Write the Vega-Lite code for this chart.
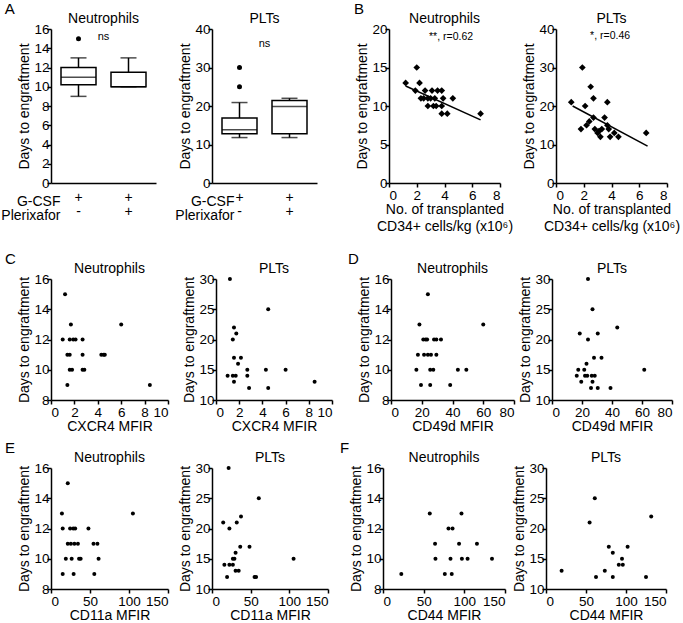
{
"$schema":"https://vega.github.io/schema/vega-lite/v6.json",
"padding":{"left":0,"top":2,"right":2,"bottom":0},
"config":{
 "font":"Liberation Sans",
 "view":{"stroke":null},
 "axis":{"domainColor":"#000","domainWidth":1.5,"tickColor":"#000","tickWidth":1.5,"tickSize":4,"labelColor":"#000","labelFontSize":13.5,"labelPadding":1,"titleColor":"#000","titleFontSize":14,"titleFontWeight":"normal","titlePadding":3,"grid":false,"labelFont":"Liberation Sans","titleFont":"Liberation Sans"},
 "axisX":{"titlePadding":1},
 "axisY":{"labelPadding":-2,"titlePadding":2},
 "title":{"font":"Liberation Sans","fontSize":14,"fontWeight":"normal","color":"#000","anchor":"middle","frame":"group","offset":-4}
},
"datasets":{
 "boxN":[{"g":"a","lo":9,"q1":10.2,"med":11,"q3":12,"hi":13},{"g":"b","lo":10,"q1":10,"med":10,"q3":11.5,"hi":13}],
 "outN":[{"g":"a","y":15}],
 "boxP":[{"g":"a","lo":11.8,"q1":12.8,"med":13.8,"q3":16.9,"hi":20.9},{"g":"b","lo":11.8,"q1":12.8,"med":19.9,"q3":21.4,"hi":22}],
 "outP":[{"g":"a","y":30},{"g":"a","y":25}],
 "bN":[{"x":1.2,"y":13},{"x":2.0,"y":15},{"x":2.2,"y":13},{"x":1.9,"y":12},{"x":2.6,"y":12},{"x":3.1,"y":12},{"x":3.5,"y":12},{"x":3.8,"y":12},{"x":2.3,"y":11},{"x":2.5,"y":11},{"x":2.8,"y":11},{"x":3.0,"y":11},{"x":3.3,"y":11},{"x":3.9,"y":11},{"x":4.6,"y":11},{"x":2.8,"y":10},{"x":3.2,"y":10},{"x":3.4,"y":10},{"x":3.8,"y":10},{"x":3.8,"y":9},{"x":4.2,"y":9},{"x":6.6,"y":9}],
 "bNfit":[{"x":1.2,"y":12.6},{"x":6.6,"y":8.2}],
 "bP":[{"x":1.1,"y":21},{"x":1.9,"y":30},{"x":2.5,"y":25},{"x":2.7,"y":22},{"x":2.1,"y":20},{"x":3.7,"y":21},{"x":2.7,"y":17},{"x":3.5,"y":17},{"x":1.8,"y":14},{"x":2.2,"y":15},{"x":2.4,"y":16},{"x":2.8,"y":14},{"x":3.0,"y":13},{"x":3.2,"y":12},{"x":3.3,"y":14},{"x":3.7,"y":15},{"x":3.8,"y":14},{"x":3.9,"y":12},{"x":4.2,"y":13},{"x":4.5,"y":12},{"x":6.5,"y":13},{"x":3.1,"y":13.5}],
 "bPfit":[{"x":1.2,"y":20.0},{"x":6.6,"y":9.6}],
 "cN":[{"x":1.2,"y":15},{"x":1.7,"y":13},{"x":1.0,"y":12},{"x":1.6,"y":12},{"x":1.9,"y":12},{"x":2.1,"y":12},{"x":2.7,"y":12},{"x":1.4,"y":11},{"x":1.6,"y":11},{"x":2.7,"y":11},{"x":4.3,"y":11},{"x":4.5,"y":11},{"x":4.6,"y":11},{"x":6.0,"y":13},{"x":1.6,"y":10},{"x":1.8,"y":10},{"x":2.7,"y":10},{"x":2.85,"y":10},{"x":1.4,"y":9},{"x":8.45,"y":9}],
 "cP":[{"x":1.2,"y":30},{"x":4.5,"y":25},{"x":1.55,"y":22},{"x":1.75,"y":21},{"x":1.45,"y":20},{"x":1.55,"y":17},{"x":2.15,"y":17},{"x":1.9,"y":16},{"x":2.7,"y":15},{"x":4.3,"y":15},{"x":6.0,"y":15},{"x":1.0,"y":14},{"x":1.45,"y":14},{"x":1.7,"y":14},{"x":2.7,"y":14},{"x":1.55,"y":13},{"x":8.5,"y":13},{"x":2.85,"y":12},{"x":4.5,"y":12}],
 "dN":[{"x":24,"y":15},{"x":18.5,"y":13},{"x":60,"y":13},{"x":21,"y":12},{"x":22.5,"y":12},{"x":23.5,"y":12},{"x":28,"y":12},{"x":29.5,"y":12},{"x":32.5,"y":12},{"x":17.5,"y":11},{"x":21.5,"y":11},{"x":24,"y":11},{"x":26,"y":11},{"x":29.5,"y":11},{"x":16.5,"y":10},{"x":25.5,"y":10},{"x":27.5,"y":10},{"x":43.5,"y":10},{"x":49,"y":10},{"x":19.5,"y":9},{"x":25.5,"y":9},{"x":38.5,"y":9}],
 "dP":[{"x":24,"y":30},{"x":27,"y":25},{"x":18.5,"y":21},{"x":30.5,"y":21},{"x":43.5,"y":22},{"x":24,"y":20},{"x":28,"y":17},{"x":33,"y":17},{"x":23,"y":16},{"x":17.5,"y":15},{"x":21.5,"y":15},{"x":61.5,"y":15},{"x":16.5,"y":14},{"x":22,"y":14},{"x":23.5,"y":14},{"x":26.5,"y":14},{"x":28.5,"y":14},{"x":19.5,"y":13},{"x":27,"y":13},{"x":26,"y":12},{"x":30.5,"y":12},{"x":39,"y":12}],
 "eN":[{"x":21.5,"y":15},{"x":14,"y":13},{"x":105,"y":13},{"x":15,"y":12},{"x":24.5,"y":12},{"x":28.5,"y":12},{"x":31,"y":12},{"x":48,"y":12},{"x":21.5,"y":11},{"x":25.5,"y":11},{"x":30,"y":11},{"x":34.5,"y":11},{"x":54.5,"y":11},{"x":59.5,"y":11},{"x":19,"y":10},{"x":26.5,"y":10},{"x":36,"y":10},{"x":38,"y":10},{"x":61,"y":10},{"x":15,"y":9},{"x":29,"y":9},{"x":55.5,"y":9}],
 "eP":[{"x":21.5,"y":30},{"x":60.5,"y":25},{"x":37.5,"y":22},{"x":14.5,"y":21},{"x":32,"y":21},{"x":22.5,"y":20},{"x":36.5,"y":17},{"x":48.5,"y":17},{"x":30.5,"y":16},{"x":27,"y":15},{"x":29,"y":15},{"x":105.5,"y":15},{"x":16,"y":14},{"x":22.5,"y":14},{"x":27,"y":14},{"x":30.5,"y":13},{"x":34.5,"y":13},{"x":19.5,"y":12},{"x":55,"y":12},{"x":57,"y":12}],
 "fN":[{"x":57.5,"y":13},{"x":96.5,"y":13},{"x":80.5,"y":12},{"x":85.5,"y":12},{"x":64,"y":11},{"x":93.5,"y":11},{"x":115.5,"y":11},{"x":64.5,"y":10},{"x":83,"y":10},{"x":97,"y":10},{"x":104,"y":10},{"x":134,"y":10},{"x":22.5,"y":9},{"x":76,"y":9},{"x":84.5,"y":9}],
 "fP":[{"x":61,"y":25},{"x":131.5,"y":22},{"x":54.5,"y":21},{"x":78.5,"y":17},{"x":102,"y":17},{"x":83.5,"y":16},{"x":95,"y":15},{"x":91,"y":14},{"x":96,"y":14},{"x":19.5,"y":13},{"x":73.5,"y":13},{"x":62.5,"y":12},{"x":83.5,"y":12},{"x":125,"y":12}]
},
"spacing":18,
"vconcat":[
 {"spacing":36,"hconcat":[
  {"title":{"text":"A","anchor":"start","frame":"bounds","offset":-5,"dx":4,"fontSize":15},"spacing":18,"hconcat":[
   {"width":105,"height":154,"title":{"text":"Neutrophils"},
    "encoding":{"x":{"field":"g","type":"nominal","scale":{"paddingInner":0,"paddingOuter":0.05},"axis":{"labelExpr":"datum.value == 'a' ? ['+', '-'] : ['+', '+']","labelAngle":0,"labelFontSize":14,"labelLineHeight":14,"labelBaseline":"top","labelPadding":7,"labelColor":"#000","ticks":false,"title":["G-CSF","Plerixafor"],"titleX":9,"titleY":11,"titleAlign":"right","titleBaseline":"top","titleAngle":0,"titleLineHeight":14}}},
    "layer":[
     {"data":{"name":"boxN"},"mark":{"type":"rule","color":"#000","strokeWidth":1.5},"encoding":{"y":{"field":"lo","type":"quantitative","title":"Days to engraftment","scale":{"domain":[0,16],"nice":false},"axis":{"values":[0,2,4,6,8,10,12,14,16]}},"y2":{"field":"hi"}}},
     {"data":{"name":"boxN"},"mark":{"type":"bar","fill":"#fff","stroke":"#000","strokeWidth":1.5,"width":35},"encoding":{"y":{"field":"q1","type":"quantitative","title":"Days to engraftment","scale":{"domain":[0,16],"nice":false},"axis":{"values":[0,2,4,6,8,10,12,14,16]}},"y2":{"field":"q3"}}},
     {"data":{"name":"boxN"},"mark":{"type":"tick","color":"#000","thickness":1.5,"size":35},"encoding":{"y":{"field":"med","type":"quantitative","title":"Days to engraftment","scale":{"domain":[0,16],"nice":false},"axis":{"values":[0,2,4,6,8,10,12,14,16]}}}},
     {"data":{"name":"boxN"},"mark":{"type":"tick","color":"#000","thickness":1.5,"size":16},"encoding":{"y":{"field":"lo","type":"quantitative","title":"Days to engraftment","scale":{"domain":[0,16],"nice":false},"axis":{"values":[0,2,4,6,8,10,12,14,16]}}}},
     {"data":{"name":"boxN"},"mark":{"type":"tick","color":"#000","thickness":1.5,"size":16},"encoding":{"y":{"field":"hi","type":"quantitative","title":"Days to engraftment","scale":{"domain":[0,16],"nice":false},"axis":{"values":[0,2,4,6,8,10,12,14,16]}}}},
     {"data":{"name":"outN"},"mark":{"type":"point","filled":true,"shape":"circle","size":25,"color":"#000","opacity":1},"encoding":{"y":{"field":"y","type":"quantitative","title":"Days to engraftment","scale":{"domain":[0,16],"nice":false},"axis":{"values":[0,2,4,6,8,10,12,14,16]}}}},
     {"data":{"values":[{"g":"a","y":15.2,"t":"ns"}]},"mark":{"type":"text","fontSize":11,"color":"#000"},"encoding":{"x":{"field":"g","type":"nominal","bandPosition":1},"y":{"field":"y","type":"quantitative","title":"Days to engraftment","scale":{"domain":[0,16],"nice":false},"axis":{"values":[0,2,4,6,8,10,12,14,16]}},"text":{"field":"t"}}}
    ]},
   {"width":105,"height":154,"title":{"text":"PLTs"},
    "encoding":{"x":{"field":"g","type":"nominal","scale":{"paddingInner":0,"paddingOuter":0.05},"axis":{"labelExpr":"datum.value == 'a' ? ['+', '-'] : ['+', '+']","labelAngle":0,"labelFontSize":14,"labelLineHeight":14,"labelBaseline":"top","labelPadding":7,"labelColor":"#000","ticks":false,"title":["G-CSF","Plerixafor"],"titleX":22,"titleY":11,"titleAlign":"right","titleBaseline":"top","titleAngle":0,"titleLineHeight":14}}},
    "layer":[
     {"data":{"name":"boxP"},"mark":{"type":"rule","color":"#000","strokeWidth":1.5},"encoding":{"y":{"field":"lo","type":"quantitative","title":"Days to engraftment","scale":{"domain":[0,40],"nice":false},"axis":{"values":[0,10,20,30,40]}},"y2":{"field":"hi"}}},
     {"data":{"name":"boxP"},"mark":{"type":"bar","fill":"#fff","stroke":"#000","strokeWidth":1.5,"width":35},"encoding":{"y":{"field":"q1","type":"quantitative","title":"Days to engraftment","scale":{"domain":[0,40],"nice":false},"axis":{"values":[0,10,20,30,40]}},"y2":{"field":"q3"}}},
     {"data":{"name":"boxP"},"mark":{"type":"tick","color":"#000","thickness":1.5,"size":35},"encoding":{"y":{"field":"med","type":"quantitative","title":"Days to engraftment","scale":{"domain":[0,40],"nice":false},"axis":{"values":[0,10,20,30,40]}}}},
     {"data":{"name":"boxP"},"mark":{"type":"tick","color":"#000","thickness":1.5,"size":16},"encoding":{"y":{"field":"lo","type":"quantitative","title":"Days to engraftment","scale":{"domain":[0,40],"nice":false},"axis":{"values":[0,10,20,30,40]}}}},
     {"data":{"name":"boxP"},"mark":{"type":"tick","color":"#000","thickness":1.5,"size":16},"encoding":{"y":{"field":"hi","type":"quantitative","title":"Days to engraftment","scale":{"domain":[0,40],"nice":false},"axis":{"values":[0,10,20,30,40]}}}},
     {"data":{"name":"outP"},"mark":{"type":"point","filled":true,"shape":"circle","size":25,"color":"#000","opacity":1},"encoding":{"y":{"field":"y","type":"quantitative","title":"Days to engraftment","scale":{"domain":[0,40],"nice":false},"axis":{"values":[0,10,20,30,40]}}}},
     {"data":{"values":[{"g":"a","y":36,"t":"ns"}]},"mark":{"type":"text","fontSize":11,"color":"#000"},"encoding":{"x":{"field":"g","type":"nominal","bandPosition":1},"y":{"field":"y","type":"quantitative","title":"Days to engraftment","scale":{"domain":[0,40],"nice":false},"axis":{"values":[0,10,20,30,40]}},"text":{"field":"t"}}}
    ]}
  ]},
  {"title":{"text":"B","anchor":"start","frame":"bounds","offset":-5,"dx":-2,"fontSize":15},"spacing":9,"hconcat":[
   {"width":111,"height":154,"title":{"text":"Neutrophils"},
    "encoding":{"x":{"field":"x","type":"quantitative","title":["No. of transplanted","CD34+ cells/kg (x10⁶)"],"scale":{"domain":[0,8],"nice":false},"axis":{"values":[0,2,4,6,8],"titleLineHeight":17}},
                "y":{"field":"y","type":"quantitative","title":"Days to engraftment","scale":{"domain":[0,20],"nice":false},"axis":{"values":[0,5,10,15,20]}}},
    "layer":[
     {"data":{"name":"bN"},"mark":{"type":"point","filled":true,"shape":"diamond","size":45,"color":"#000","opacity":1}},
     {"data":{"name":"bNfit"},"mark":{"type":"line","color":"#000","strokeWidth":1.5}},
     {"data":{"values":[{"x":4.47,"y":19.0,"t":"**, r=0.62"}]},"mark":{"type":"text","fontSize":10.5,"color":"#000"},"encoding":{"text":{"field":"t"}}}
    ]},
   {"width":111,"height":154,"title":{"text":"PLTs"},
    "encoding":{"x":{"field":"x","type":"quantitative","title":["No. of transplanted","CD34+ cells/kg (x10⁶)"],"scale":{"domain":[0,8],"nice":false},"axis":{"values":[0,2,4,6,8],"titleLineHeight":17}},
                "y":{"field":"y","type":"quantitative","title":"Days to engraftment","scale":{"domain":[0,40],"nice":false},"axis":{"values":[0,10,20,30,40]}}},
    "layer":[
     {"data":{"name":"bP"},"mark":{"type":"point","filled":true,"shape":"diamond","size":45,"color":"#000","opacity":1}},
     {"data":{"name":"bPfit"},"mark":{"type":"line","color":"#000","strokeWidth":1.5}},
     {"data":{"values":[{"x":3.9,"y":38.3,"t":"*, r=0.46"}]},"mark":{"type":"text","fontSize":10.5,"color":"#000"},"encoding":{"text":{"field":"t"}}}
    ]}
  ]}
 ]},
 {"spacing":7,"vconcat":[
  {"spacing":14,"hconcat":[
   {"title":{"text":"C","anchor":"start","frame":"bounds","offset":-5,"dx":-13,"fontSize":15},"spacing":13,"hconcat":[
    {"width":117,"height":121,"title":{"text":"Neutrophils"},"data":{"name":"cN"},"mark":{"type":"point","filled":true,"shape":"circle","size":16,"color":"#000","opacity":1},
     "encoding":{"x":{"field":"x","type":"quantitative","title":"CXCR4 MFIR","scale":{"domain":[0,10],"nice":false},"axis":{"values":[0,2,4,6,8,10]}},"y":{"field":"y","type":"quantitative","title":"Days to engraftment","scale":{"domain":[8,16],"nice":false,"zero":false},"axis":{"values":[8,10,12,14,16]}}}},
    {"width":116,"height":121,"title":{"text":"PLTs"},"data":{"name":"cP"},"mark":{"type":"point","filled":true,"shape":"circle","size":16,"color":"#000","opacity":1},
     "encoding":{"x":{"field":"x","type":"quantitative","title":"CXCR4 MFIR","scale":{"domain":[0,10],"nice":false},"axis":{"values":[0,2,4,6,8,10]}},"y":{"field":"y","type":"quantitative","title":"Days to engraftment","scale":{"domain":[10,30],"nice":false,"zero":false},"axis":{"values":[10,15,20,25,30]}}}}
   ]},
   {"title":{"text":"D","anchor":"start","frame":"bounds","offset":-5,"dx":-10,"fontSize":15},"spacing":3,"hconcat":[
    {"width":123,"height":121,"title":{"text":"Neutrophils"},"data":{"name":"dN"},"mark":{"type":"point","filled":true,"shape":"circle","size":16,"color":"#000","opacity":1},
     "encoding":{"x":{"field":"x","type":"quantitative","title":"CD49d MFIR","scale":{"domain":[0,80],"nice":false},"axis":{"values":[0,20,40,60,80]}},"y":{"field":"y","type":"quantitative","title":"Days to engraftment","scale":{"domain":[8,16],"nice":false,"zero":false},"axis":{"values":[8,10,12,14,16]}}}},
    {"width":120,"height":121,"title":{"text":"PLTs"},"data":{"name":"dP"},"mark":{"type":"point","filled":true,"shape":"circle","size":16,"color":"#000","opacity":1},
     "encoding":{"x":{"field":"x","type":"quantitative","title":"CD49d MFIR","scale":{"domain":[0,80],"nice":false},"axis":{"values":[0,20,40,60,80]}},"y":{"field":"y","type":"quantitative","title":"Days to engraftment","scale":{"domain":[10,30],"nice":false,"zero":false},"axis":{"values":[10,15,20,25,30]}}}}
   ]}
  ]},
  {"spacing":10,"hconcat":[
   {"title":{"text":"E","anchor":"start","frame":"bounds","offset":-5,"dx":-13,"fontSize":15},"spacing":9,"hconcat":[
    {"width":117,"height":121,"title":{"text":"Neutrophils"},"data":{"name":"eN"},"mark":{"type":"point","filled":true,"shape":"circle","size":16,"color":"#000","opacity":1},
     "encoding":{"x":{"field":"x","type":"quantitative","title":"CD11a MFIR","scale":{"domain":[0,150],"nice":false},"axis":{"values":[0,50,100,150]}},"y":{"field":"y","type":"quantitative","title":"Days to engraftment","scale":{"domain":[8,16],"nice":false,"zero":false},"axis":{"values":[8,10,12,14,16]}}}},
    {"width":116,"height":121,"title":{"text":"PLTs"},"data":{"name":"eP"},"mark":{"type":"point","filled":true,"shape":"circle","size":16,"color":"#000","opacity":1},
     "encoding":{"x":{"field":"x","type":"quantitative","title":"CD11a MFIR","scale":{"domain":[0,150],"nice":false},"axis":{"values":[0,50,100,150]}},"y":{"field":"y","type":"quantitative","title":"Days to engraftment","scale":{"domain":[10,30],"nice":false,"zero":false},"axis":{"values":[10,15,20,25,30]}}}}
   ]},
   {"title":{"text":"F","anchor":"start","frame":"bounds","offset":-5,"dx":-10,"fontSize":15},"spacing":6,"hconcat":[
    {"width":122,"height":121,"title":{"text":"Neutrophils"},"data":{"name":"fN"},"mark":{"type":"point","filled":true,"shape":"circle","size":16,"color":"#000","opacity":1},
     "encoding":{"x":{"field":"x","type":"quantitative","title":"CD44 MFIR","scale":{"domain":[0,150],"nice":false},"axis":{"values":[0,50,100,150]}},"y":{"field":"y","type":"quantitative","title":"Days to engraftment","scale":{"domain":[8,16],"nice":false,"zero":false},"axis":{"values":[8,10,12,14,16]}}}},
    {"width":120,"height":121,"title":{"text":"PLTs"},"data":{"name":"fP"},"mark":{"type":"point","filled":true,"shape":"circle","size":16,"color":"#000","opacity":1},
     "encoding":{"x":{"field":"x","type":"quantitative","title":"CD44 MFIR","scale":{"domain":[0,150],"nice":false},"axis":{"values":[0,50,100,150]}},"y":{"field":"y","type":"quantitative","title":"Days to engraftment","scale":{"domain":[10,30],"nice":false,"zero":false},"axis":{"values":[10,15,20,25,30]}}}}
   ]}
  ]}
 ]}
]
}
